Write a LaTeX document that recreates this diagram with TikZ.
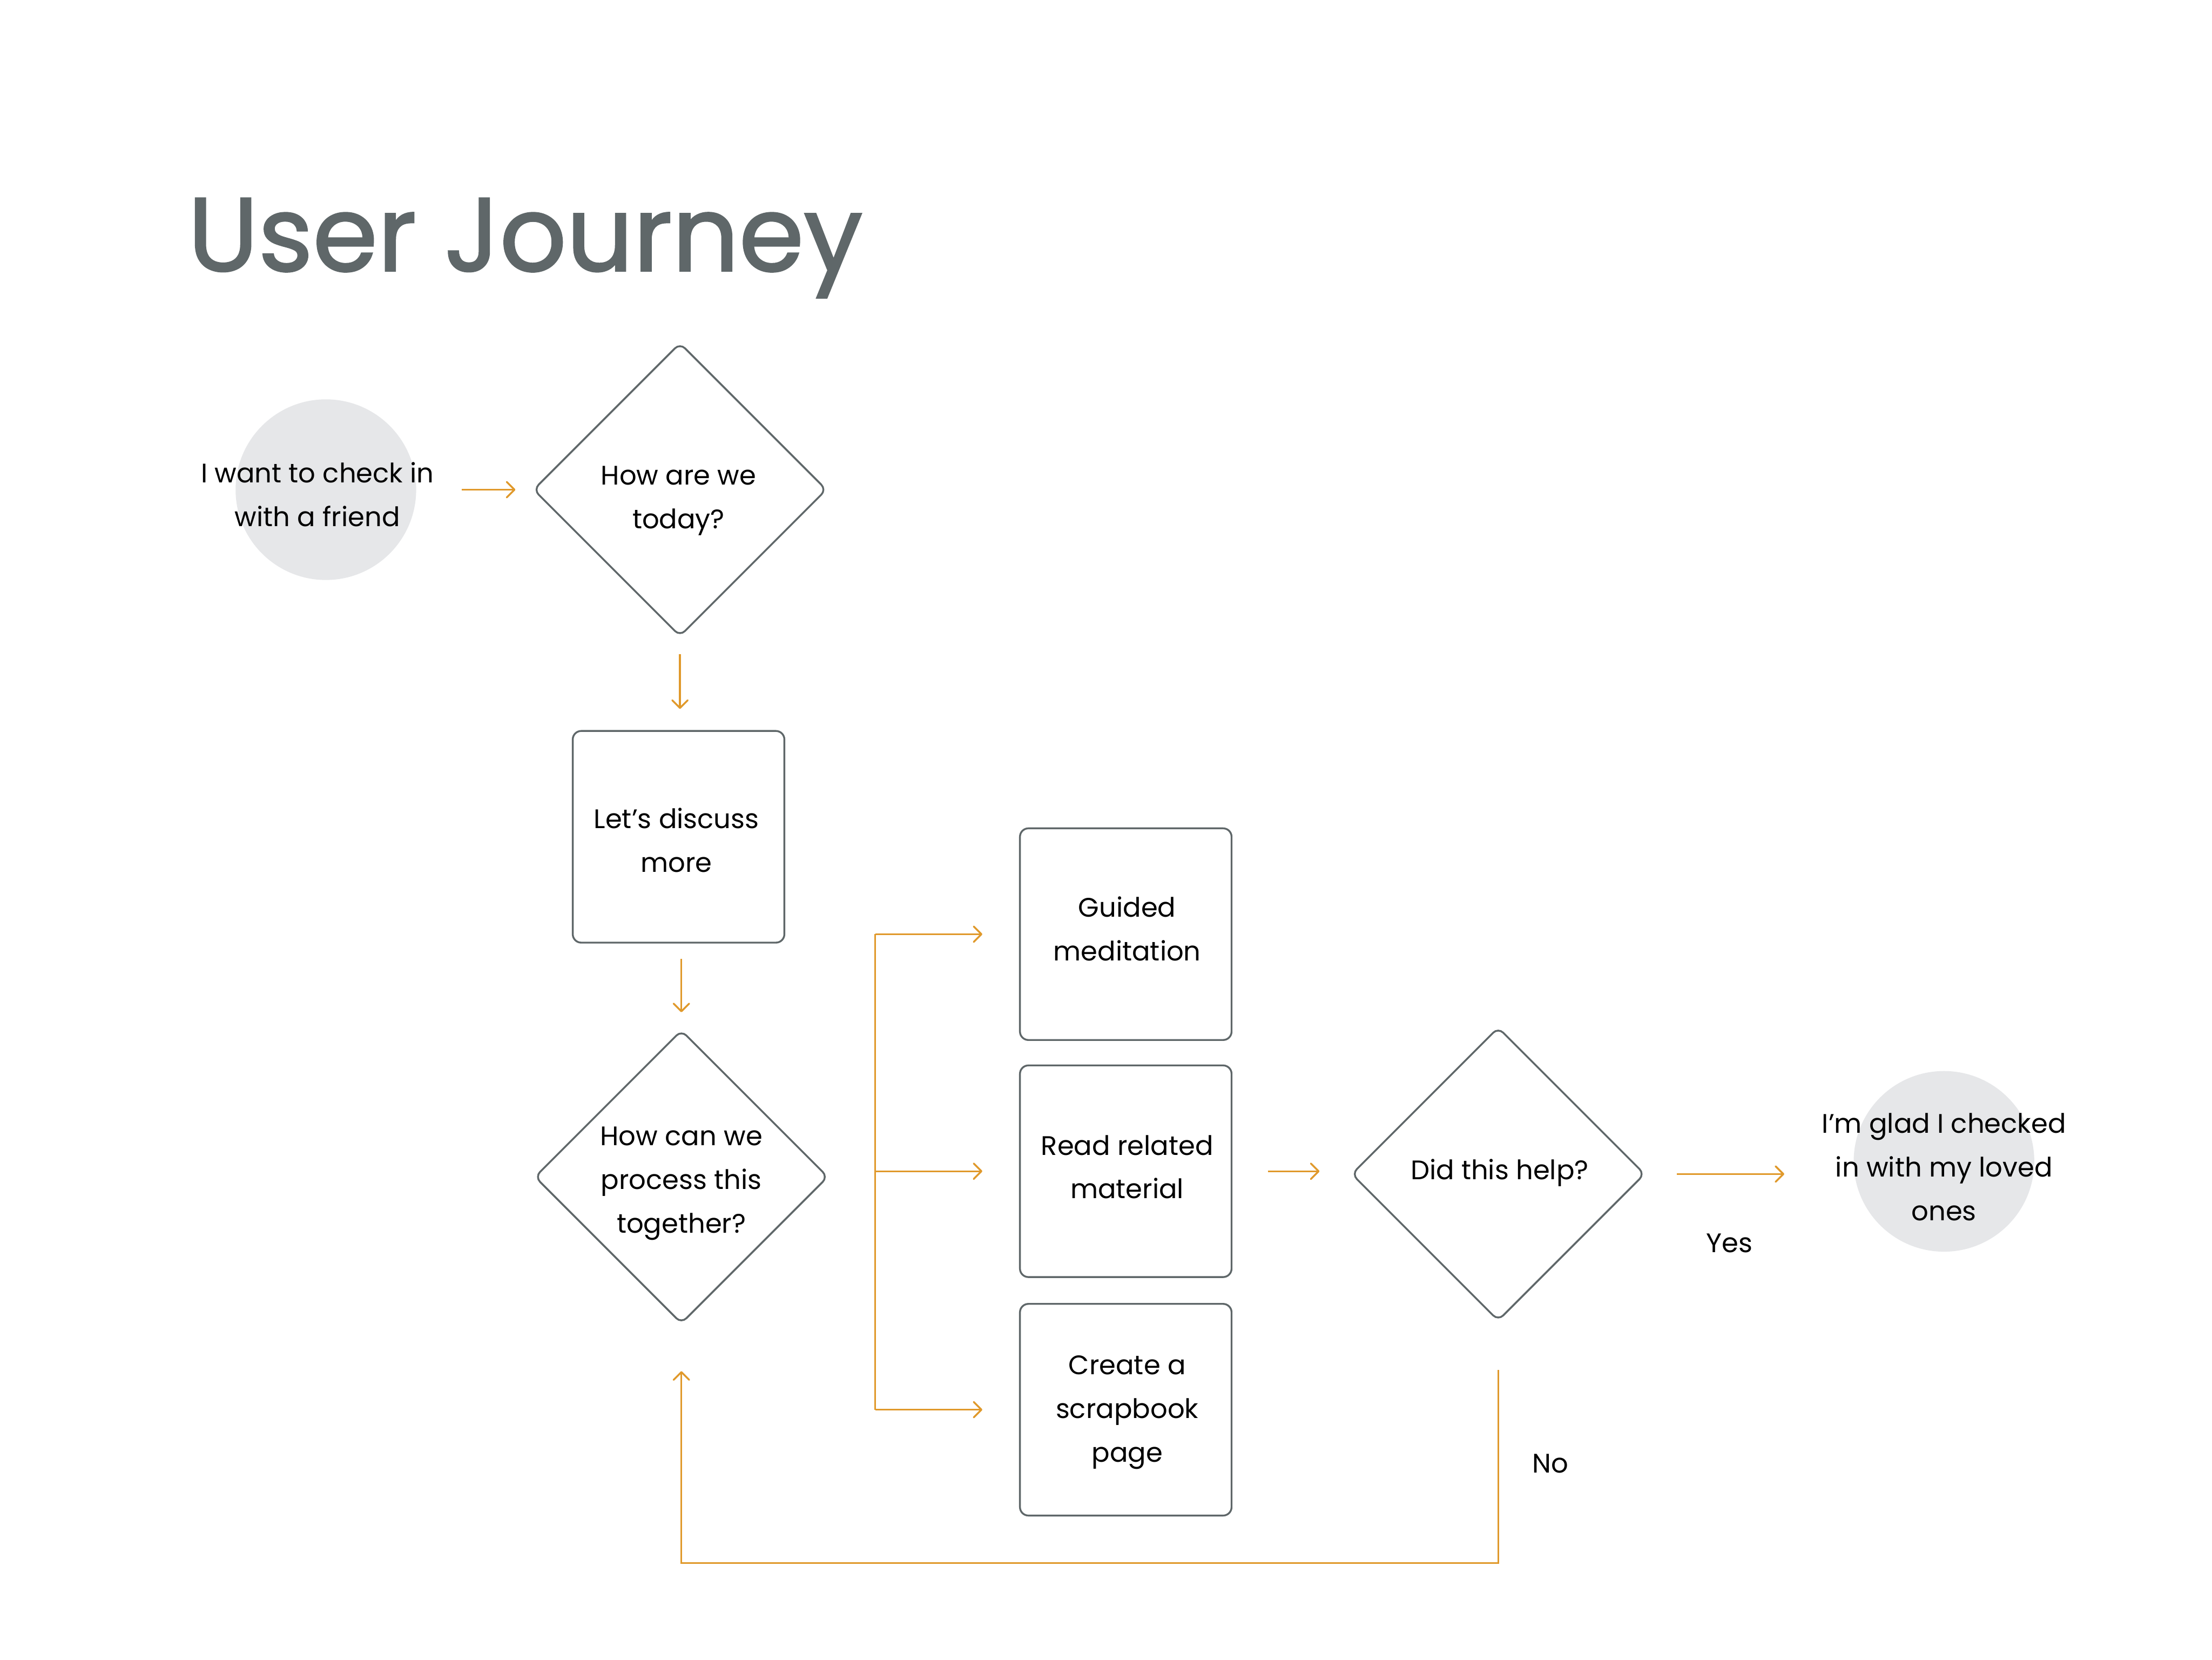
\documentclass[tikz,border=0pt]{standalone}
\usepackage{fontspec}
\setmainfont{Poppins}
\newfontfamily\titlefont[FakeBold=1.6]{Poppins}
\usetikzlibrary{arrows.meta,shapes.geometric,calc}
\definecolor{orng}{HTML}{E0992B}
\definecolor{edge}{HTML}{5F6769}
\definecolor{disc}{HTML}{E6E7E9}
\begin{document}
\begin{tikzpicture}[x=1pt,y=-1pt,
 txt/.style={font=\fontsize{19}{31}\selectfont, align=center, inner sep=0pt, text=black},
 dia/.style={diamond, aspect=1, draw=edge, line width=1.3pt, rounded corners=5pt, minimum width=208pt, minimum height=208pt, inner sep=0pt},
 box/.style={rectangle, draw=edge, line width=1.3pt, rounded corners=6pt, minimum width=150pt, minimum height=150pt, inner sep=0pt},
 blob/.style={circle, fill=disc, minimum size=128pt, inner sep=0pt},
 arr/.style={draw=orng, line width=1.3pt, -{Straight Barb[length=5.5pt,width=11pt,round]}},
 link/.style={draw=orng, line width=1.3pt}]
\useasboundingbox[fill=white] (0,0) rectangle (1568,1176);
\node[anchor=base west, font=\titlefont\fontsize{74}{74}\selectfont, text=edge, inner sep=0pt] (title) at (133,192) {User Journey};
% shapes
\node[blob] (c1) at (231,347) {};
\node[dia] (d1) at (482,347) {};
\node[box] (b1) at (481,593) {};
\node[dia] (d2) at (483,834) {};
\node[box] (g) at (798,662) {};
\node[box] (r) at (798,830) {};
\node[box] (s) at (798,999) {};
\node[dia] (d3) at (1062,832) {};
\node[blob] (c2) at (1378,823) {};
% texts
\node[txt] (c1t) at ($(c1)+(-6,3.5)$) {I want to check in\\with a friend};
\node[txt] (d1t) at ($(d1)+(-1,8)$) {How are we\\today?};
\node[txt] (b1t) at ($(b1)+(-1.5,2.5)$) {Let’s discuss\\more};
\node[txt] (d2t) at ($(d2)+(0,4.7)$) {How can we\\process this\\together?};
\node[txt] (gt) at ($(g)+(1,-4)$) {Guided\\meditation};
\node[txt] (rt) at ($(r)+(1,-3)$) {Read related\\material};
\node[txt] (st) at ($(s)+(1,2)$) {Create a\\scrapbook\\page};
\node[txt] (d3t) at ($(d3)+(1,-1)$) {Did this help?};
\node[txt] (c2t) at ($(c2)+(0,4)$) {I’m glad I checked\\in with my loved\\ones};
\node[txt] (yes) at (1226,881) {Yes};
\node[txt] (no) at (1099,1037) {No};
% connector ends
\coordinate (br) at ([xshift=-102pt]g.west);
\coordinate (a2s) at ([yshift=-12pt]d1.south);
\coordinate (a2e) at ([yshift=15pt]b1.north);
\coordinate (a3s) at ([yshift=-11pt]b1.south);
\coordinate (a3e) at ([yshift=12pt]d2.north);
\coordinate (a4s) at ([xshift=25pt]r.east);
\coordinate (a4e) at ([xshift=-22pt]d3.west);
\coordinate (a5s) at ([xshift=22pt]d3.east);
\coordinate (a5e) at ([xshift=-49pt]c2.west);
\draw[arr] ([xshift=32pt]c1.east) -- ([xshift=-12pt]d1.west);
\draw[arr] (a2s) -- (a2e -| a2s);
\draw[arr] (a3s -| a3e) -- (a3e);
\draw[link] (br |- g.west) -- (br |- s.west);
\draw[arr] (br |- g.west) -- ([xshift=-26pt]g.west);
\draw[arr] (br |- r.west) -- ([xshift=-26pt]r.west);
\draw[arr] (br |- s.west) -- ([xshift=-26pt]s.west);
\draw[arr] (a4s) -- (a4e |- a4s);
\draw[arr] (a5s) -- (a5e |- a5s);
\draw[arr] ([yshift=-34pt]d3.south) -- ++(0,137) -| ([yshift=-33pt]d2.south);
\end{tikzpicture}
\end{document}
